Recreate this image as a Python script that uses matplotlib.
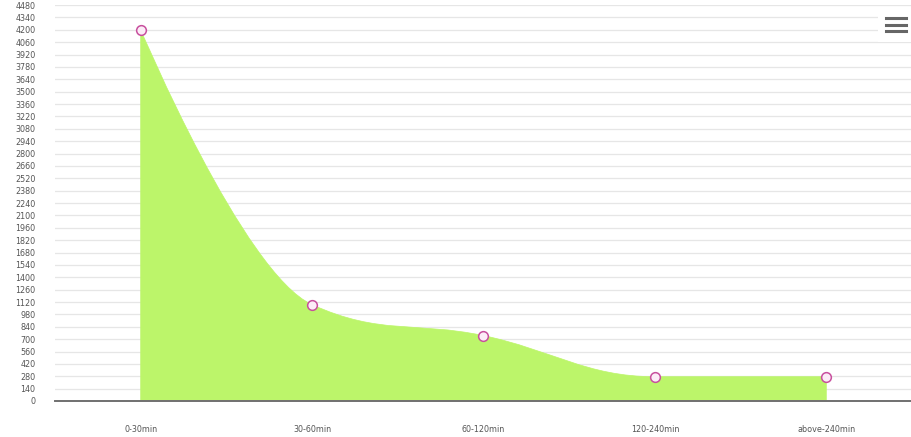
import numpy as np
import matplotlib.pyplot as plt
from matplotlib.path import Path
from matplotlib.patches import PathPatch, Rectangle

# Data
categories = ['0-30min', '30-60min', '60-120min', '120-240min', 'above-240min']
values = [4200, 1090, 740, 275, 275]
y_ticks = list(range(0, 4481, 140))


def spline_path(xs, ys, smoothing=1.5):
    # Highcharts-like areaspline control points
    n = len(xs)
    denom = smoothing + 1
    left = [(xs[i], ys[i]) for i in range(n)]
    right = [(xs[i], ys[i]) for i in range(n)]
    for i in range(1, n - 1):
        x, y = xs[i], ys[i]
        lx, ly = xs[i - 1], ys[i - 1]
        nx, ny = xs[i + 1], ys[i + 1]
        lcx = (smoothing * x + lx) / denom
        lcy = (smoothing * y + ly) / denom
        rcx = (smoothing * x + nx) / denom
        rcy = (smoothing * y + ny) / denom
        if rcx != lcx:
            corr = (rcy - lcy) * (rcx - x) / (rcx - lcx) + y - rcy
            lcy += corr
            rcy += corr
        if lcy > ly and lcy > y:
            lcy = max(ly, y)
            rcy = 2 * y - lcy
        elif lcy < ly and lcy < y:
            lcy = min(ly, y)
            rcy = 2 * y - lcy
        if rcy > ny and rcy > y:
            rcy = max(ny, y)
            lcy = 2 * y - rcy
        elif rcy < ny and rcy < y:
            rcy = min(ny, y)
            lcy = 2 * y - rcy
        left[i] = (lcx, lcy)
        right[i] = (rcx, rcy)
    verts = [(xs[0], 0), (xs[0], ys[0])]
    codes = [Path.MOVETO, Path.LINETO]
    for i in range(1, n):
        verts += [right[i - 1], left[i], (xs[i], ys[i])]
        codes += [Path.CURVE4] * 3
    verts += [(xs[-1], 0), (xs[0], 0)]
    codes += [Path.LINETO, Path.CLOSEPOLY]
    return Path(verts, codes)


fig = plt.figure(figsize=(9.12, 4.37), dpi=100)
ax = fig.add_axes([55 / 912, 36 / 437, 857 / 912, 396 / 437])

x = np.arange(len(categories))
ax.add_patch(PathPatch(spline_path(x, values), facecolor='#bcf56a',
                       edgecolor='#bcf56a', lw=0.5, zorder=2))
ax.plot(x, values, 'o', ms=7, mfc='#fcecf7', mec='#c8509e', mew=1.1, zorder=3)

ax.set_xlim(-0.5, len(categories) - 0.5)
ax.set_ylim(0, 4480)
ax.set_yticks(y_ticks)
ax.set_yticklabels([str(v) for v in y_ticks], fontsize=5.8, color='#555555')
ax.set_xticks(x)
ax.set_xticklabels(categories, fontsize=5.8, color='#555555')
ax.tick_params(axis='y', length=0, pad=14)
ax.tick_params(axis='x', length=0, pad=17)
ax.grid(axis='y', color='#e6e6e6', lw=0.9, zorder=0)
ax.set_axisbelow(True)
for s in ['top', 'right', 'left']:
    ax.spines[s].set_visible(False)
ax.spines['bottom'].set_color('#707070')
ax.spines['bottom'].set_linewidth(1.4)
ax.spines['bottom'].set_zorder(4)

# menu button
fig.patches.append(Rectangle((878 / 912, 1 - 42 / 437), 34 / 912, 32 / 437,
                             transform=fig.transFigure, facecolor='white',
                             edgecolor='none', zorder=5))
for yy in [18, 24.5, 31]:
    fig.add_artist(plt.Line2D([886 / 912, 906 / 912], [1 - yy / 437, 1 - yy / 437],
                              transform=fig.transFigure, color='#666666', lw=2.2,
                              zorder=6))

fig.savefig('out.png', dpi=100)
